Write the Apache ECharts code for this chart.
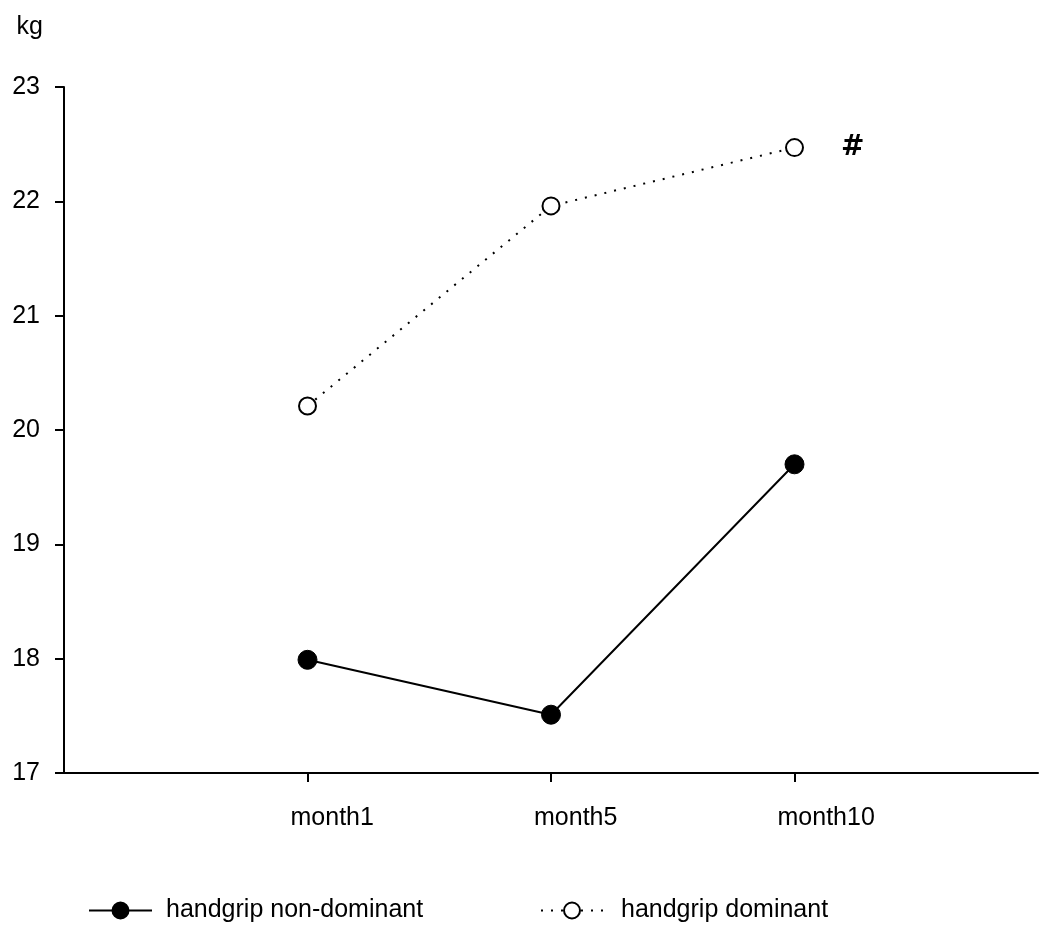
<!DOCTYPE html>
<html>
<head>
<meta charset="utf-8">
<script src="https://cdn.jsdelivr.net/npm/echarts@6/dist/echarts.min.js"></script>
<style>
  html, body { margin: 0; padding: 0; background: #fff; }
  #chart { width: 1041px; height: 926px; }
</style>
</head>
<body>
<div id="chart"></div>
<script>
// padded with blanks so the three months sit at 1/4, 2/4, 3/4 of the axis
const categories = ["", "month1", "month5", "month10", ""];
const nonDominant = [null, 17.99, 17.51, 19.70, null];
const dominant = [null, 20.21, 21.96, 22.47, null];
const yTicks = [17, 18, 19, 20, 21, 22, 23];

const font = "Liberation Sans, Arial, sans-serif";
const fs = 25;

const chart = echarts.init(document.getElementById("chart"));

chart.setOption({
  animation: false,
  backgroundColor: "#fff",
  textStyle: { fontFamily: font },
  grid: { left: 64, top: 87, right: 0, bottom: 153, containLabel: false },
  legend: [
    {
      left: 83,
      top: 893,
      itemWidth: 63,
      itemHeight: 20,
      data: ["handgrip non-dominant"],
      textStyle: { fontSize: fs, color: "#000", fontFamily: font, padding: [0, 0, 0, 9] }
    },
    {
      left: 535,
      top: 893,
      itemWidth: 62,
      itemHeight: 20,
      data: ["handgrip dominant"],
      textStyle: { fontSize: fs, color: "#000", fontFamily: font, padding: [0, 0, 0, 13] }
    }
  ],
  xAxis: {
    type: "category",
    data: categories,
    boundaryGap: false,
    axisLine: { lineStyle: { color: "#000", width: 2 } },
    axisTick: {
      length: 9,
      lineStyle: { color: "#000", width: 2 },
      interval: (i, v) => v !== ""
    },
    axisLabel: {
      color: "#000",
      fontSize: fs,
      margin: 33,
      fontFamily: font,
      interval: 0,
      align: "left",
      padding: [0, 0, 0, -17]
    },
    splitLine: { show: false }
  },
  yAxis: {
    type: "value",
    min: yTicks[0],
    max: yTicks[yTicks.length - 1],
    interval: 1,
    name: "kg",
    nameLocation: "end",
    nameGap: 47,
    nameTextStyle: {
      color: "#000",
      fontSize: fs,
      align: "right",
      padding: [0, 21, 0, 0],
      fontFamily: font
    },
    axisLine: { show: true, lineStyle: { color: "#000", width: 2 } },
    axisTick: { show: true, length: 9, lineStyle: { color: "#000", width: 2 } },
    axisLabel: { color: "#000", fontSize: fs, margin: 24, fontFamily: font },
    splitLine: { show: false }
  },
  series: [
    {
      name: "handgrip non-dominant",
      type: "line",
      data: nonDominant,
      symbol: "circle",
      symbolSize: 19,
      lineStyle: { color: "#000", width: 2 },
      itemStyle: { color: "#000", borderColor: "#000", borderWidth: 1 }
    },
    {
      name: "handgrip dominant",
      type: "line",
      data: dominant.map((v, i) =>
        i === 3
          ? {
              value: v,
              label: {
                show: true,
                position: "right",
                distance: 37,
                formatter: "#",
                fontSize: 28,
                fontWeight: "bold",
                color: "#000",
                fontFamily: "DejaVu Sans"
              }
            }
          : v
      ),
      symbol: "circle",
      symbolSize: 17,
      lineStyle: { color: "#000", width: 2, type: [2, 8] },
      itemStyle: { color: "#fff", borderColor: "#000", borderWidth: 2 }
    }
  ]
});

window.addEventListener("resize", chart.resize);
</script>
</body>
</html>
